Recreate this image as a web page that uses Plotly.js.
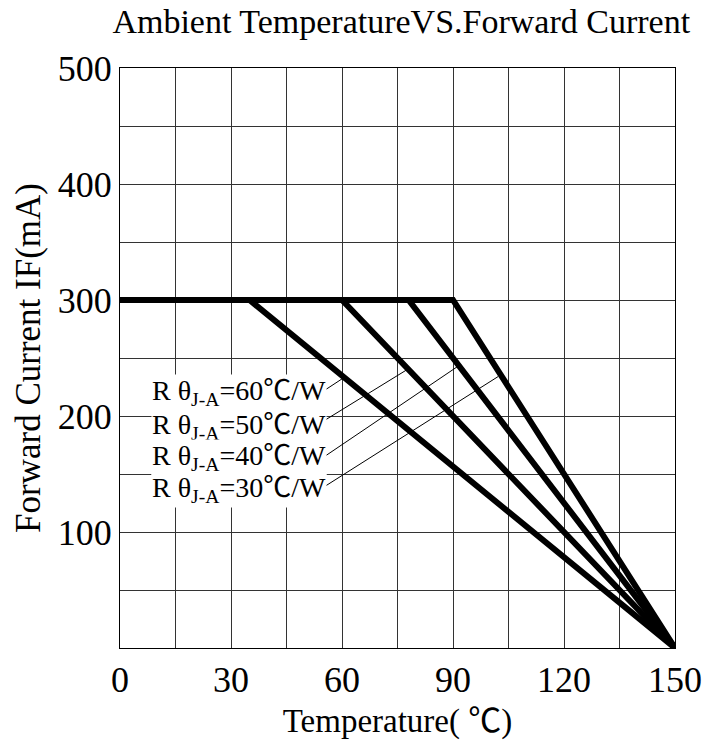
<!DOCTYPE html>
<html>
<head>
<meta charset="utf-8">
<script src="https://cdn.plot.ly/plotly-3.0.1.min.js"></script>
<style>html,body{margin:0;padding:0;background:#fff;}#chart{width:704px;height:740px;}</style>
</head>
<body>
<div id="chart"></div>
<script>
// Data
const rthetaLabels = ["60", "50", "40", "30"];          // Rθ J-A in ℃/W
const kneeTemps = [35, 60, 78, 90];                     // temperature where derating starts
const maxCurrent = 300;                                 // IF max (mA)
const maxTemp = 150;                                    // Tj max (℃)
const xTickVals = [0, 30, 60, 90, 120, 150];
const xTickText = ["0", "30", "60", "90", "120", "150"];
const yTickVals = [100, 200, 300, 400, 500];
const yTickText = ["100", "200", "300", "400", "500"];
// label anchor (x) and row values (y) for the Rθ labels, and leader-line end points
const labelX = 56;
const labelY = [220, 191, 164, 137];
const leaderStartY = [223, 197, 166, 140];
const leaderEndX = [60, 77.6, 91.4, 102.2];
const leaderEndY = [232, 240, 243, 234];

const FONT = '"Liberation Serif", "Noto Sans CJK SC", serif';

const traces = kneeTemps.map((k) => ({
  x: [0, k, maxTemp],
  y: [maxCurrent, maxCurrent, 0],
  mode: 'lines',
  line: {color: '#000', width: 6},
  hoverinfo: 'skip',
  showlegend: false
}));

const shapes = rthetaLabels.map((r, i) => ({
  type: 'line', xref: 'x', yref: 'y',
  x0: labelX - 0.3, y0: leaderStartY[i], x1: leaderEndX[i], y1: leaderEndY[i],
  line: {color: '#000', width: 1}
}));

const annotations = rthetaLabels.map((r, i) => ({
  x: labelX, y: labelY[i], xref: 'x', yref: 'y',
  xanchor: 'right', yanchor: 'middle',
  text: 'R θ<sub>J-A</sub>=' + r + '℃/W',
  showarrow: false,
  bgcolor: '#fff', borderpad: 0,
  font: {family: FONT, size: 28, color: '#000'}
}));

const layout = {
  width: 704, height: 740,
  margin: {l: 120, r: 29, t: 68, b: 92},
  paper_bgcolor: '#fff', plot_bgcolor: '#fff',
  title: {text: 'Ambient TemperatureVS.Forward Current', x: 0.57, xanchor: 'center', y: 0.972, yanchor: 'middle',
          font: {family: FONT, size: 34, color: '#000'}},
  xaxis: {
    range: [0, 150], tickvals: xTickVals, ticktext: xTickText,
    showgrid: true, gridcolor: '#333', gridwidth: 1,
    minor: {dtick: 15, tick0: 0, showgrid: true, gridcolor: '#333', gridwidth: 1, ticks: ''},
    showline: true, linecolor: '#000', linewidth: 1, mirror: true,
    zeroline: false, ticks: '',
    tickfont: {family: FONT, size: 36, color: '#000'},
    title: {text: 'Temperature( ℃)', standoff: 10, font: {family: FONT, size: 33, color: '#000'}}
  },
  yaxis: {
    range: [0, 500], tickvals: yTickVals, ticktext: yTickText,
    showgrid: true, gridcolor: '#333', gridwidth: 1,
    minor: {dtick: 50, tick0: 0, showgrid: true, gridcolor: '#333', gridwidth: 1, ticks: ''},
    showline: true, linecolor: '#000', linewidth: 1, mirror: true,
    zeroline: false, ticks: '', ticklabelstandoff: 0,
    tickfont: {family: FONT, size: 36, color: '#000'},
    title: {text: 'Forward Current IF(mA)', standoff: 6, font: {family: FONT, size: 35, color: '#000'}}
  },
  shapes: shapes,
  annotations: annotations
};

Plotly.newPlot('chart', traces, layout, {displayModeBar: false, staticPlot: true});
</script>
</body>
</html>
